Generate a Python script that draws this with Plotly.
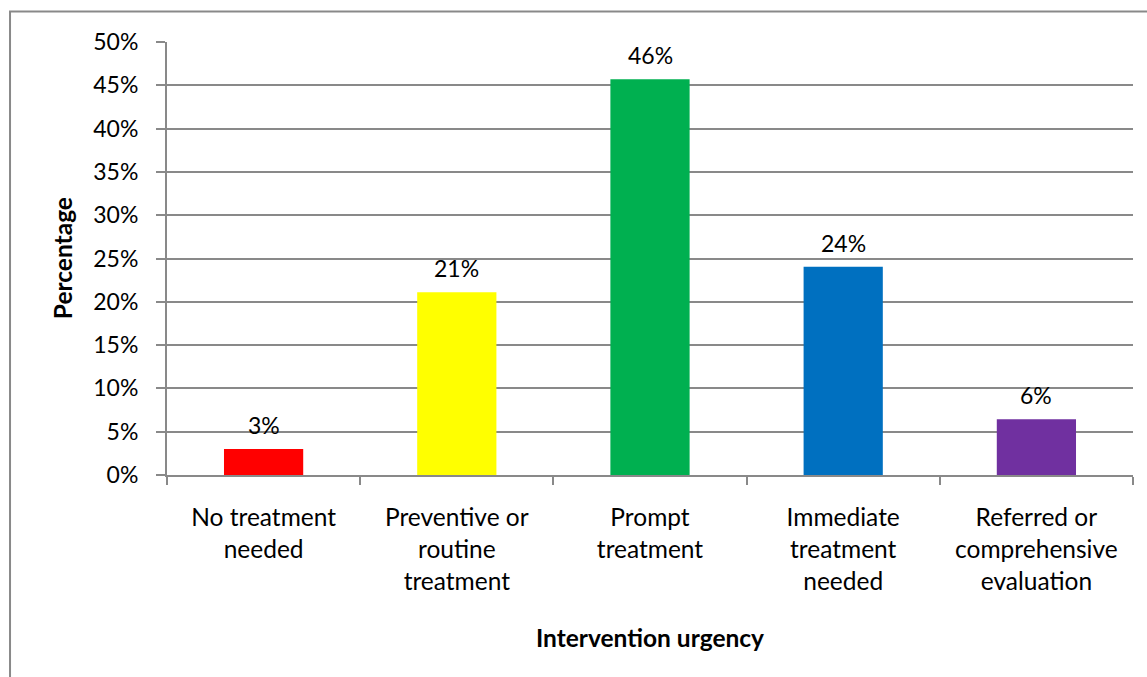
import plotly.graph_objects as go

categories = ["No treatment<br>needed", "Preventive or<br>routine<br>treatment", "Prompt<br>treatment",
              "Immediate<br>treatment<br>needed", "Referred or<br>comprehensive<br>evaluation"]
values = [3.0, 21.1, 45.7, 24.05, 6.45]
labels = ["3%", "21%", "46%", "24%", "6%"]
colors = ["#FF0000", "#FFFF00", "#00B050", "#0070C0", "#7030A0"]
y_ticks = [0, 5, 10, 15, 20, 25, 30, 35, 40, 45, 50]
y_tick_text = [f"{v}%" for v in y_ticks]

FONT = "Lato, Carlito, Calibri, sans-serif"
GRAY = "#898989"

fig = go.Figure()
fig.add_trace(go.Bar(
    x=categories, y=values, marker=dict(color=colors, line=dict(width=0)),
    width=0.41, hoverinfo="skip",
))

for c, v, t in zip(categories, values, labels):
    fig.add_annotation(x=c, y=v, text=t, showarrow=False, yanchor="bottom",
                       yshift=8, font=dict(family=FONT, size=23, color="#000000"))

fig.add_annotation(xref="paper", yref="paper", x=0.5, y=-0.375, text="<b>Intervention urgency</b>",
                   showarrow=False, font=dict(family=FONT, size=24.5, color="#000000"),
                   xanchor="center", yanchor="middle")
fig.add_annotation(xref="paper", yref="paper", x=-0.108, y=0.5, text="<b>Percentage</b>",
                   textangle=-90, showarrow=False, font=dict(family=FONT, size=24.5, color="#000000"),
                   xanchor="center", yanchor="middle")

fig.add_shape(type="rect", xref="paper", yref="paper", x0=-0.1625, x1=1.05, y0=-0.6, y1=1.0705,
              line=dict(color=GRAY, width=2), fillcolor="rgba(0,0,0,0)", layer="below")

fig.update_layout(
    width=1147, height=677,
    margin=dict(l=167, r=14, t=42, b=202, autoexpand=False),
    plot_bgcolor="white", paper_bgcolor="white",
    showlegend=False,
    font=dict(family=FONT, size=23, color="#000000"),
    xaxis=dict(
        type="category", showgrid=False, showline=True, linecolor=GRAY, linewidth=2,
        ticks="outside", tickson="boundaries", ticklen=8, tickcolor=GRAY, tickwidth=2,
        tickfont=dict(family=FONT, size=24.5, color="#000000"), ticklabelstandoff=20,
        automargin=False, fixedrange=True,
    ),
    yaxis=dict(
        range=[0, 50], tickvals=y_ticks, ticktext=y_tick_text,
        showgrid=True, gridcolor=GRAY, gridwidth=2,
        showline=True, linecolor=GRAY, linewidth=2,
        ticks="outside", ticklen=9, tickcolor=GRAY, tickwidth=2,
        tickfont=dict(family=FONT, size=23, color="#000000"), ticklabelstandoff=13,
        zeroline=False, automargin=False, fixedrange=True,
    ),
)

fig.write_html("out.html", config={"displayModeBar": False})
